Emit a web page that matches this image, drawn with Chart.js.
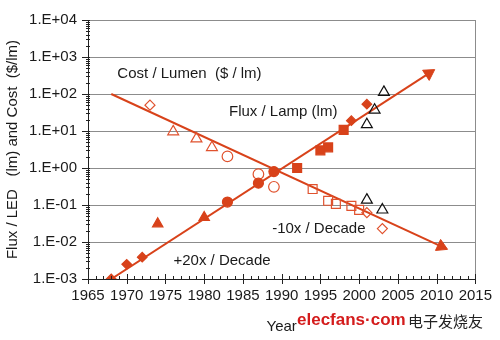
<!DOCTYPE html>
<html>
<head>
<meta charset="utf-8">
<script src="https://cdn.jsdelivr.net/npm/chart.js@4/dist/chart.umd.min.js"></script>
<style>
  html, body { margin: 0; padding: 0; background: #fff; }
  #wrap { width: 500px; height: 340px; position: relative; }
</style>
</head>
<body>
<div id="wrap"><canvas id="chart"></canvas></div>
<script>
// trend lines (start, arrow end)
const fluxLineYears = [1968, 2009];
const fluxLineValues = [0.001, 360];
const costLineYears = [1968, 2010.6];
const costLineValues = [100, 0.0076];

// flux / LED points (filled)
const fluxDiamondYears = [1968, 1970, 1972, 1999, 2001];
const fluxDiamondValues = [0.001, 0.0025, 0.0039, 19, 53];
const fluxTriangleYears = [1974, 1980];
const fluxTriangleValues = [0.031, 0.046];
const fluxCircleYears = [1983, 1987, 1989];
const fluxCircleValues = [0.12, 0.39, 0.8];
const fluxSquareYears = [1992, 1995, 1996, 1998];
const fluxSquareValues = [1.0, 3.0, 3.6, 10.7];
const lampTriangleYears = [2001, 2002, 2003.2];
const lampTriangleValues = [15, 37, 112];

// cost / lumen points (open)
const costDiamondYears = [1973, 2001, 2003];
const costDiamondValues = [50, 0.062, 0.023];
const costTriangleYears = [1976, 1979, 1981];
const costTriangleValues = [9.6, 6.2, 3.6];
const costCircleYears = [1983, 1987, 1989];
const costCircleValues = [2.06, 0.68, 0.31];
const costSquareYears = [1994, 1996, 1997, 1999, 2000];
const costSquareValues = [0.27, 0.13, 0.107, 0.095, 0.074];
const costBlackTriYears = [2001, 2003];
const costBlackTriValues = [0.137, 0.074];

const yTicks = [1e-3, 1e-2, 1e-1, 1, 10, 100, 1000, 10000];
const yTickLabels = ['1.E-03', '1.E-02', '1.E-01', '1.E+00', '1.E+01', '1.E+02', '1.E+03', '1.E+04'];

// notes on the plot: text, year, value
const notes = [
  ['Cost / Lumen  ($ / lm)', 1978.1, 340],
  ['Flux / Lamp (lm)', 1990.2, 33],
  ['-10x / Decade', 1994.8, 0.022],
  ['+20x / Decade', 1982.3, 0.003]
];

const RED = '#d8421a';
const RED_OPEN = '#e0522e';
const FONT = 'Arial, "Liberation Sans", sans-serif';

function pts(xs, ys) {
  return xs.map((x, i) => ({ x: x, y: ys[i] }));
}

function markers(xs, ys, style, radius, filled, color) {
  return {
    data: pts(xs, ys),
    pointStyle: style,
    pointRadius: radius,
    pointHoverRadius: radius,
    pointBackgroundColor: filled ? color : 'rgba(0,0,0,0)',
    pointBorderColor: color,
    pointBorderWidth: 1.2,
    showLine: false,
    order: 1
  };
}

function trend(xs, ys, rot) {
  return {
    data: pts(xs, ys),
    showLine: true,
    borderColor: RED,
    borderWidth: 2,
    pointStyle: 'triangle',
    pointRadius: [0, 7],
    pointRotation: [0, rot],
    pointBackgroundColor: RED,
    pointBorderColor: RED,
    pointBorderWidth: 1,
    order: 5
  };
}

const datasets = [
  markers(fluxDiamondYears, fluxDiamondValues, 'rectRot', 4.8, true, RED),
  markers(fluxTriangleYears, fluxTriangleValues, 'triangle', 6, true, RED),
  markers(fluxCircleYears, fluxCircleValues, 'circle', 5, true, RED),
  markers(fluxSquareYears, fluxSquareValues, 'rect', 6.3, true, RED),
  markers(lampTriangleYears, lampTriangleValues, 'triangle', 6.3, false, '#111'),
  markers(costDiamondYears, costDiamondValues, 'rectRot', 5, false, RED_OPEN),
  markers(costTriangleYears, costTriangleValues, 'triangle', 6.3, false, RED_OPEN),
  markers(costCircleYears, costCircleValues, 'circle', 5.3, false, RED_OPEN),
  markers(costSquareYears, costSquareValues, 'rect', 6.3, false, RED_OPEN),
  markers(costBlackTriYears, costBlackTriValues, 'triangle', 6.3, false, '#111'),
  trend(fluxLineYears, fluxLineValues, 57),
  trend(costLineYears, costLineValues, 115)
];

// minor ticks, frame, notes and watermark
const extras = {
  id: 'extras',
  afterDraw(chart) {
    const ctx = chart.ctx;
    const xs = chart.scales.x, ys = chart.scales.y;
    const a = chart.chartArea;
    ctx.save();
    // right frame
    ctx.strokeStyle = '#8c8c8c';
    ctx.lineWidth = 1;
    ctx.beginPath();
    ctx.moveTo(Math.round(a.right) + 0.5, a.top);
    ctx.lineTo(Math.round(a.right) + 0.5, a.bottom);
    ctx.stroke();
    // x ticks
    ctx.strokeStyle = '#222';
    ctx.beginPath();
    for (let yr = 1965; yr <= 2015; yr++) {
      const px = Math.round(xs.getPixelForValue(yr)) + 0.5;
      if (yr % 5 === 0) {
        ctx.moveTo(px, a.bottom - 5);
        ctx.lineTo(px, a.bottom + 5);
      } else {
        ctx.moveTo(px, a.bottom - 3);
        ctx.lineTo(px, a.bottom);
      }
    }
    // y ticks
    for (let d = -3; d <= 4; d++) {
      const base = Math.pow(10, d);
      const py = Math.round(ys.getPixelForValue(base)) + 0.5;
      ctx.moveTo(a.left - 6, py);
      ctx.lineTo(a.left + 2, py);
      if (d < 4) {
        for (let m = 2; m <= 9; m++) {
          const my = Math.round(ys.getPixelForValue(base * m)) + 0.5;
          ctx.moveTo(a.left - 2, my);
          ctx.lineTo(a.left + 2, my);
        }
      }
    }
    ctx.stroke();
    // notes
    ctx.fillStyle = '#1a1a1a';
    ctx.font = '15px ' + FONT;
    ctx.textAlign = 'center';
    ctx.textBaseline = 'middle';
    for (const n of notes) {
      ctx.fillText(n[0], xs.getPixelForValue(n[1]), ys.getPixelForValue(n[2]));
    }
    // watermark
    ctx.textAlign = 'left';
    ctx.fillStyle = '#d41c1c';
    ctx.font = 'bold 17px ' + FONT;
    ctx.fillText('elecfans\u00b7com', 297, 320);
    ctx.fillStyle = '#222';
    ctx.font = '15px "Noto Sans CJK SC"';
    ctx.fillText('电子发烧友', 408, 321);
    ctx.restore();
  }
};

new Chart(document.getElementById('chart'), {
  type: 'scatter',
  data: { datasets: datasets },
  options: {
    responsive: true,
    maintainAspectRatio: false,
    animation: false,
    events: [],
    layout: { padding: { top: 17, right: 21, left: 0, bottom: 0 } },
    plugins: { legend: { display: false }, tooltip: { enabled: false } },
    scales: {
      x: {
        type: 'linear',
        min: 1965,
        max: 2015,
        afterBuildTicks(scale) {
          const t = [];
          for (let v = 1965; v <= 2015; v += 5) t.push({ value: v });
          scale.ticks = t;
        },
        afterFit(scale) { scale.height = 61; },
        grid: { display: false, drawTicks: false },
        border: { display: true, color: '#222', width: 1 },
        ticks: {
          padding: 8,
          color: '#1a1a1a',
          font: { size: 15, family: FONT },
          maxRotation: 0,
          autoSkip: false,
          callback: (v) => String(v)
        },
        title: { display: true, text: 'Year', color: '#1a1a1a', font: { size: 15, family: FONT } }
      },
      y: {
        type: 'logarithmic',
        min: 1e-3,
        max: 1e4,
        afterBuildTicks(scale) {
          scale.ticks = yTicks.map(v => ({ value: v }));
        },
        afterFit(scale) { scale.width = 88; },
        grid: { color: '#8c8c8c', lineWidth: 1, drawTicks: false },
        border: { display: true, color: '#222', width: 1 },
        ticks: {
          padding: 11,
          color: '#1a1a1a',
          font: { size: 15, family: FONT },
          callback: (v) => yTickLabels[yTicks.findIndex(t => Math.abs(Math.log10(t) - Math.log10(v)) < 1e-6)]
        },
        title: { display: true, text: 'Flux / LED   (lm) and Cost  ($/lm)', color: '#1a1a1a', font: { size: 15, family: FONT } }
      }
    }
  },
  plugins: [extras]
});
</script>
</body>
</html>
